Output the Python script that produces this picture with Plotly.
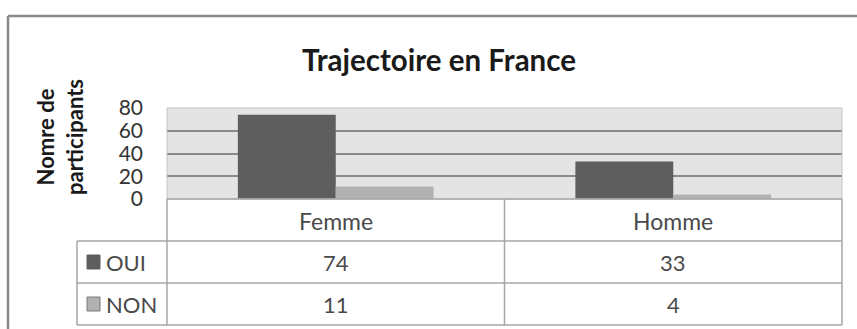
import plotly.graph_objects as go

# Data
categories = ["Femme", "Homme"]
series_names = ["OUI", "NON"]
oui_values = [74, 33]
non_values = [11, 4]
y_ticks = [0, 20, 40, 60, 80]

title_text = "Trajectoire en France"
y_title = "Nomre de<br>participants"

colors = {"OUI": "#5e5e5e", "NON": "#b1b1b1"}
series_values = {"OUI": oui_values, "NON": non_values}

W, H = 857, 329
FONT = "Lato"


def px(x):
    return x / W


def py(y):
    return 1 - y / H


# plot area in pixels
X0, X1 = 167, 842
Y_TOP, Y_ZERO = 108, 199
ROW_H = [199, 241, 283, 325]  # table row boundaries
TABLE_LEFT = 77

fig = go.Figure()
for name in series_names:
    fig.add_trace(go.Bar(
        x=categories, y=series_values[name], name=name,
        marker=dict(color=colors[name], line=dict(width=0)),
        showlegend=False,
    ))

fig.update_layout(
    width=W, height=H, autosize=False,
    margin=dict(l=0, r=0, t=0, b=0, pad=0, autoexpand=False),
    paper_bgcolor="white",
    plot_bgcolor="#e4e4e4",
    barmode="group",
    bargap=0.42,
    bargroupgap=0,
    xaxis=dict(domain=[px(X0), px(X1)], showticklabels=False, showgrid=False,
               zeroline=False, showline=False, fixedrange=True, automargin=False),
    yaxis=dict(domain=[py(Y_ZERO), py(Y_TOP)], range=[0, 80], tickvals=y_ticks,
               showgrid=True, gridcolor="#8a8a8a", gridwidth=1.5, zeroline=False,
               showline=False, ticks="", ticklabelstandoff=23, automargin=False,
               tickfont=dict(family=FONT, size=21, color="#333333")),
    font=dict(family=FONT),
)

shapes = []
line_col = "#a6a6a6"
# outer frame
shapes.append(dict(type="line", xref="paper", yref="paper", x0=px(8), x1=1, y0=py(16), y1=py(16),
                   line=dict(color="#8a8a8a", width=2.5)))
shapes.append(dict(type="line", xref="paper", yref="paper", x0=px(8), x1=px(8), y0=py(16), y1=0,
                   line=dict(color="#8a8a8a", width=2.5)))
# plot area outline
shapes.append(dict(type="rect", xref="paper", yref="paper", x0=px(X0), x1=px(X1),
                   y0=py(Y_ZERO), y1=py(Y_TOP), line=dict(color="#c4c4c4", width=1)))
# table horizontal lines
shapes.append(dict(type="line", xref="paper", yref="paper", x0=px(X0), x1=px(X1),
                   y0=py(ROW_H[0]), y1=py(ROW_H[0]), line=dict(color=line_col, width=1.5)))
for yb in ROW_H[1:]:
    shapes.append(dict(type="line", xref="paper", yref="paper", x0=px(TABLE_LEFT), x1=px(X1),
                       y0=py(yb), y1=py(yb), line=dict(color=line_col, width=1.5)))
# table vertical lines
mid = (X0 + X1) / 2
shapes.append(dict(type="line", xref="paper", yref="paper", x0=px(X0), x1=px(X0),
                   y0=py(ROW_H[0]), y1=py(ROW_H[3]), line=dict(color=line_col, width=1.5)))
shapes.append(dict(type="line", xref="paper", yref="paper", x0=px(mid), x1=px(mid),
                   y0=py(ROW_H[0]), y1=py(ROW_H[3]), line=dict(color=line_col, width=1.5)))
shapes.append(dict(type="line", xref="paper", yref="paper", x0=px(X1), x1=px(X1),
                   y0=py(ROW_H[0]), y1=py(ROW_H[3]), line=dict(color=line_col, width=1.5)))
shapes.append(dict(type="line", xref="paper", yref="paper", x0=px(TABLE_LEFT), x1=px(TABLE_LEFT),
                   y0=py(ROW_H[1]), y1=py(ROW_H[3]), line=dict(color=line_col, width=1.5)))

annotations = []


def label(text, x, y, size=22, color="#4a4a4a", xanchor="center", angle=0):
    annotations.append(dict(text=text, xref="paper", yref="paper", x=px(x), y=py(y),
                            xanchor=xanchor, yanchor="middle", showarrow=False,
                            textangle=angle, font=dict(family=FONT, size=size, color=color)))


# title
label(f"<b>{title_text}</b>", 439, 59, size=29.5, color="#1a1a1a")
# y-axis title
label(f"<b>{y_title}</b>", 60, 137, size=22, color="#1a1a1a", angle=-90)
# table header: categories
col_centers = [(X0 + mid) / 2, (mid + X1) / 2]
for cat, cx in zip(categories, col_centers):
    label(cat, cx, (ROW_H[0] + ROW_H[1]) / 2 + 1, size=23)
# table rows: legend key, series name, values
for i, name in enumerate(series_names):
    yc = (ROW_H[i + 1] + ROW_H[i + 2]) / 2
    shapes.append(dict(type="rect", xref="paper", yref="paper", x0=px(87), x1=px(100),
                       y0=py(yc + 7), y1=py(yc - 7), fillcolor=colors[name],
                       line=dict(color="#7a7a7a" if name == "NON" else colors[name], width=1)))
    label(name, 104, yc, xanchor="left")
    for v, cx in zip(series_values[name], col_centers):
        label(str(v), cx, yc)

fig.update_layout(shapes=shapes, annotations=annotations)
fig.write_html("out.html")
